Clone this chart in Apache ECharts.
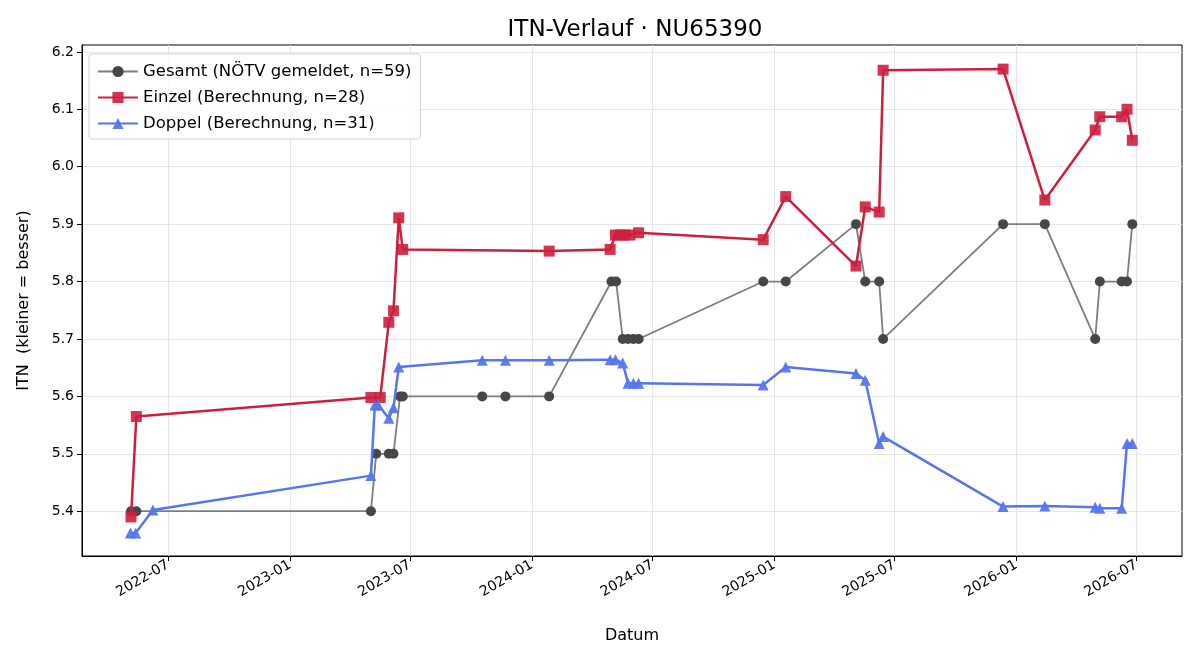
<!DOCTYPE html>
<html>
<head>
<meta charset="utf-8">
<script src="https://cdn.jsdelivr.net/npm/echarts@6/dist/echarts.min.js"></script>
<style>
  html, body { margin: 0; padding: 0; background: #fff; }
  #chart { width: 1200px; height: 660px; }
</style>
</head>
<body>
<div id="chart"></div>
<script>
// Gesamt (NÖTV gemeldet)
const gesamtDates = ['2022-05-06', '2022-05-14', '2023-05-03', '2023-05-11', '2023-05-30', '2023-06-06',
  '2023-06-16', '2023-06-20', '2023-10-18', '2023-11-22', '2024-01-27', '2024-04-30', '2024-05-07',
  '2024-05-17', '2024-05-25', '2024-06-02', '2024-06-10', '2024-12-15', '2025-01-18', '2025-05-04',
  '2025-05-18', '2025-06-08', '2025-06-14', '2025-12-12', '2026-02-13', '2026-04-30', '2026-05-07',
  '2026-06-09', '2026-06-17', '2026-06-25'];
const gesamtValues = [5.4, 5.4, 5.4, 5.5, 5.5, 5.5,
  5.6, 5.6, 5.6, 5.6, 5.6, 5.8, 5.8,
  5.7, 5.7, 5.7, 5.7, 5.8, 5.8, 5.9,
  5.8, 5.8, 5.7, 5.9, 5.9, 5.7, 5.8,
  5.8, 5.8, 5.9];

// Einzel (Berechnung)
const einzelDates = ['2022-05-06', '2022-05-14', '2023-05-03', '2023-05-17', '2023-05-30', '2023-06-06',
  '2023-06-14', '2023-06-20', '2024-01-27', '2024-04-28', '2024-05-06', '2024-05-13', '2024-05-20',
  '2024-05-28', '2024-06-10', '2024-12-15', '2025-01-18', '2025-05-04', '2025-05-18', '2025-06-08',
  '2025-06-14', '2025-12-12', '2026-02-13', '2026-04-30', '2026-05-07', '2026-06-09', '2026-06-17',
  '2026-06-25'];
const einzelValues = [5.39, 5.565, 5.598, 5.598, 5.729, 5.749,
  5.911, 5.856, 5.853, 5.856, 5.881, 5.881, 5.881,
  5.881, 5.885, 5.873, 5.948, 5.827, 5.93, 5.921,
  6.168, 6.17, 5.942, 6.064, 6.087, 6.087, 6.1,
  6.046];

// Doppel (Berechnung)
const doppelDates = ['2022-05-05', '2022-05-13', '2022-06-08', '2023-05-03', '2023-05-09', '2023-05-14',
  '2023-05-30', '2023-06-06', '2023-06-14', '2023-10-18', '2023-11-22', '2024-01-27', '2024-04-28',
  '2024-05-06', '2024-05-17', '2024-05-25', '2024-06-02', '2024-06-10', '2024-12-15', '2025-01-18',
  '2025-05-04', '2025-05-18', '2025-06-08', '2025-06-14', '2025-12-12', '2026-02-13', '2026-04-30',
  '2026-05-07', '2026-06-09', '2026-06-17', '2026-06-25'];
const doppelValues = [5.362, 5.362, 5.402, 5.462, 5.585, 5.585,
  5.562, 5.58, 5.651, 5.663, 5.663, 5.663, 5.664,
  5.664, 5.658, 5.623, 5.623, 5.623, 5.62, 5.651,
  5.64, 5.628, 5.518, 5.53, 5.408, 5.409, 5.407,
  5.405, 5.405, 5.518, 5.518];

const xTicks = ['2022-07-01', '2023-01-01', '2023-07-01', '2024-01-01', '2024-07-01',
  '2025-01-01', '2025-07-01', '2026-01-01', '2026-07-01'];
const yTicks = [5.4, 5.5, 5.6, 5.7, 5.8, 5.9, 6.0, 6.1, 6.2];

const font = 'DejaVu Sans';
const toTime = d => new Date(d + 'T00:00:00').getTime();
const pairs = (dates, vals) => dates.map((d, i) => [toTime(d), vals[i]]);

const chart = echarts.init(document.getElementById('chart'), null, { renderer: 'canvas' });

// x is a plain value axis holding timestamps, so the tick dates can be given by hand
const option = {
  animation: false,
  backgroundColor: '#fff',
  textStyle: { fontFamily: font },
  title: {
    text: 'ITN-Verlauf · NU65390',
    left: 630,
    textAlign: 'center',
    top: 14,
    textStyle: { fontFamily: font, fontSize: 23, fontWeight: 'normal', color: '#000' }
  },
  grid: {
    left: 82, right: 18, top: 45, bottom: 104,
    show: true, borderColor: '#000', borderWidth: 1
  },
  legend: {
    orient: 'vertical',
    left: 89, top: 54,
    padding: [9, 9, 7, 8],
    itemGap: 9,
    itemWidth: 40,
    itemHeight: 14,
    backgroundColor: 'rgba(255,255,255,0.8)',
    borderColor: '#d0d0d0',
    borderWidth: 1,
    borderRadius: 3,
    textStyle: { fontFamily: font, fontSize: 16.5, color: '#000' }
  },
  xAxis: {
    type: 'value',
    min: toTime('2022-02-21'),
    max: toTime('2026-09-08'),
    name: 'Datum',
    nameLocation: 'middle',
    nameGap: 72,
    nameTextStyle: { fontFamily: font, fontSize: 16, color: '#000' },
    axisLine: { show: true, onZero: false, lineStyle: { color: '#000' } },
    axisTick: { show: true, length: 5, lineStyle: { color: '#000' }, customValues: xTicks.map(toTime) },
    axisLabel: {
      customValues: xTicks.map(toTime),
      rotate: 30,
      fontFamily: font, fontSize: 14, color: '#000', margin: 8,
      formatter: v => {
        const d = new Date(v);
        return d.getFullYear() + '-' + String(d.getMonth() + 1).padStart(2, '0');
      }
    },
    splitLine: { show: true, lineStyle: { color: '#e6e6e6', width: 1 } }
  },
  yAxis: {
    type: 'value',
    min: 5.322,
    max: 6.212,
    name: 'ITN  (kleiner = besser)',
    nameLocation: 'middle',
    nameGap: 50,
    nameTextStyle: { fontFamily: font, fontSize: 16, color: '#000' },
    axisLine: { show: true, onZero: false, lineStyle: { color: '#000' } },
    axisTick: { show: true, length: 5, lineStyle: { color: '#000' }, customValues: yTicks },
    axisLabel: {
      customValues: yTicks,
      fontFamily: font, fontSize: 14, color: '#000', margin: 8,
      formatter: v => v.toFixed(1)
    },
    splitLine: { show: true, lineStyle: { color: '#e6e6e6', width: 1 } }
  },
  series: [
    {
      name: 'Gesamt (NÖTV gemeldet, n=59)',
      type: 'line',
      data: pairs(gesamtDates, gesamtValues),
      symbol: 'circle',
      symbolSize: 10,
      lineStyle: { color: '#7d7d7d', width: 1.8 },
      itemStyle: { color: '#464646', opacity: 1 },
      z: 2
    },
    {
      name: 'Einzel (Berechnung, n=28)',
      type: 'line',
      data: pairs(einzelDates, einzelValues),
      symbol: 'rect',
      symbolSize: 11,
      lineStyle: { color: '#cc1f3d', width: 2.5 },
      itemStyle: { color: '#cc1f3d', opacity: 0.9 },
      z: 3
    },
    {
      name: 'Doppel (Berechnung, n=31)',
      type: 'line',
      data: pairs(doppelDates, doppelValues),
      symbol: 'triangle',
      symbolSize: 11,
      lineStyle: { color: '#5675ef', width: 2.5 },
      itemStyle: { color: '#5675ef', opacity: 0.95 },
      z: 4
    }
  ]
};

chart.setOption(option);
</script>
</body>
</html>
